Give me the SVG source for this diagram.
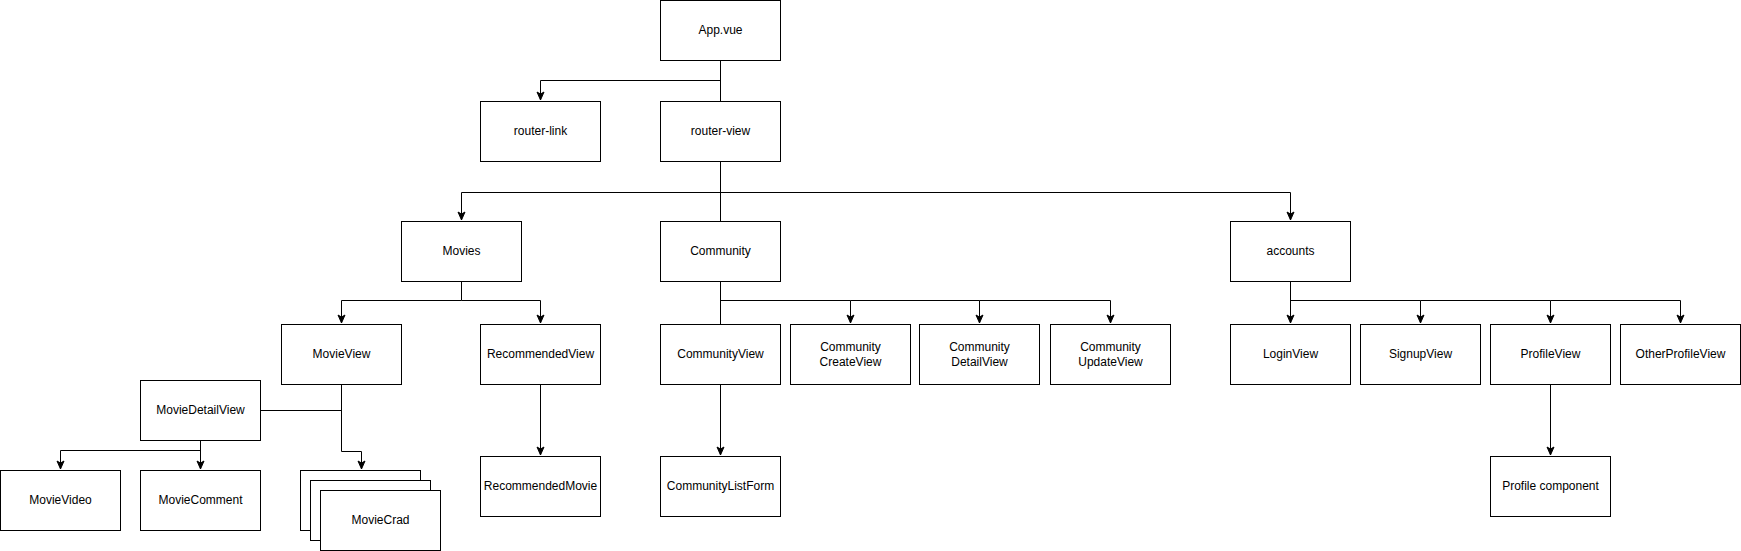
<svg xmlns="http://www.w3.org/2000/svg" width="1741" height="551" viewBox="0 0 1741 551">
<style>
.box{fill:#fff;stroke:#000;stroke-width:1}
.lbl{font-family:"Liberation Sans",Arial,sans-serif;font-size:12px;fill:#000;text-anchor:middle}
.c{fill:none;stroke:#000;stroke-width:1}
</style>
<defs>
<marker id="arr" markerUnits="userSpaceOnUse" markerWidth="10" markerHeight="10" viewBox="0 0 10 10" refX="9" refY="5" orient="auto">
<path d="M1,1.5 L9,5 L1,8.5 L3,5 Z" fill="#000" stroke="#000" stroke-width="1"/>
</marker>
</defs>
<rect width="1741" height="551" fill="#fff"/>
<g id="connectors">
<path class="c" d="M720.5,60 V80.5 H540.5 V100" marker-end="url(#arr)"/>
<path class="c" d="M720.5,60 V101"/>
<path class="c" d="M720.5,161 V192.5 H461.5 V220" marker-end="url(#arr)"/>
<path class="c" d="M720.5,161 V221"/>
<path class="c" d="M720.5,192.5 H1290.5 V220" marker-end="url(#arr)"/>
<path class="c" d="M461.5,281 V300.5 H341.5 V323" marker-end="url(#arr)"/>
<path class="c" d="M461.5,300.5 H540.5 V323" marker-end="url(#arr)"/>
<path class="c" d="M720.5,281 V324"/>
<path class="c" d="M720.5,300.5 H850.5 V323" marker-end="url(#arr)"/>
<path class="c" d="M850.5,300.5 H979.5 V323" marker-end="url(#arr)"/>
<path class="c" d="M979.5,300.5 H1110.5 V323" marker-end="url(#arr)"/>
<path class="c" d="M1290.5,281 V323" marker-end="url(#arr)"/>
<path class="c" d="M1290.5,300.5 H1420.5 V323" marker-end="url(#arr)"/>
<path class="c" d="M1420.5,300.5 H1550.5 V323" marker-end="url(#arr)"/>
<path class="c" d="M1550.5,300.5 H1680.5 V323" marker-end="url(#arr)"/>
<path class="c" d="M1550.5,384 V455" marker-end="url(#arr)"/>
<path class="c" d="M540.5,384 V455" marker-end="url(#arr)"/>
<path class="c" d="M720.5,384 V455" marker-end="url(#arr)"/>
<path class="c" d="M341.5,384 V451.5 H361.5 V469" marker-end="url(#arr)"/>
<path class="c" d="M261,410.5 H341.5"/>
<path class="c" d="M200.5,440 V450.5 H60.5 V469" marker-end="url(#arr)"/>
<path class="c" d="M200.5,440 V469" marker-end="url(#arr)"/>
</g>
<g id="app"><rect class="box" x="660.5" y="0.5" width="120" height="60"/><text class="lbl" x="720.5" y="34">App.vue</text></g>
<g id="router-link"><rect class="box" x="480.5" y="101.5" width="120" height="60"/><text class="lbl" x="540.5" y="135">router-link</text></g>
<g id="router-view"><rect class="box" x="660.5" y="101.5" width="120" height="60"/><text class="lbl" x="720.5" y="135">router-view</text></g>
<g id="movies"><rect class="box" x="401.5" y="221.5" width="120" height="60"/><text class="lbl" x="461.5" y="255">Movies</text></g>
<g id="community"><rect class="box" x="660.5" y="221.5" width="120" height="60"/><text class="lbl" x="720.5" y="255">Community</text></g>
<g id="accounts"><rect class="box" x="1230.5" y="221.5" width="120" height="60"/><text class="lbl" x="1290.5" y="255">accounts</text></g>
<g id="movieview"><rect class="box" x="281.5" y="324.5" width="120" height="60"/><text class="lbl" x="341.5" y="358">MovieView</text></g>
<g id="recommendedview"><rect class="box" x="480.5" y="324.5" width="120" height="60"/><text class="lbl" x="540.5" y="358">RecommendedView</text></g>
<g id="communityview"><rect class="box" x="660.5" y="324.5" width="120" height="60"/><text class="lbl" x="720.5" y="358">CommunityView</text></g>
<g id="communitycreateview"><rect class="box" x="790.5" y="324.5" width="120" height="60"/><text class="lbl" x="850.5" y="351">Community</text><text class="lbl" x="850.5" y="366">CreateView</text></g>
<g id="communitydetailview"><rect class="box" x="919.5" y="324.5" width="120" height="60"/><text class="lbl" x="979.5" y="351">Community</text><text class="lbl" x="979.5" y="366">DetailView</text></g>
<g id="communityupdateview"><rect class="box" x="1050.5" y="324.5" width="120" height="60"/><text class="lbl" x="1110.5" y="351">Community</text><text class="lbl" x="1110.5" y="366">UpdateView</text></g>
<g id="loginview"><rect class="box" x="1230.5" y="324.5" width="120" height="60"/><text class="lbl" x="1290.5" y="358">LoginView</text></g>
<g id="signupview"><rect class="box" x="1360.5" y="324.5" width="120" height="60"/><text class="lbl" x="1420.5" y="358">SignupView</text></g>
<g id="profileview"><rect class="box" x="1490.5" y="324.5" width="120" height="60"/><text class="lbl" x="1550.5" y="358">ProfileView</text></g>
<g id="otherprofileview"><rect class="box" x="1620.5" y="324.5" width="120" height="60"/><text class="lbl" x="1680.5" y="358">OtherProfileView</text></g>
<g id="moviedetailview"><rect class="box" x="140.5" y="380.5" width="120" height="60"/><text class="lbl" x="200.5" y="414">MovieDetailView</text></g>
<g id="movievideo"><rect class="box" x="0.5" y="470.5" width="120" height="60"/><text class="lbl" x="60.5" y="504">MovieVideo</text></g>
<g id="moviecomment"><rect class="box" x="140.5" y="470.5" width="120" height="60"/><text class="lbl" x="200.5" y="504">MovieComment</text></g>
<g id="moviecrad"><rect class="box" x="300.5" y="470.5" width="120" height="60"/><rect class="box" x="310.5" y="480.5" width="120" height="60"/><rect class="box" x="320.5" y="490.5" width="120" height="60"/><text class="lbl" x="380.5" y="524">MovieCrad</text></g>
<g id="recommendedmovie"><rect class="box" x="480.5" y="456.5" width="120" height="60"/><text class="lbl" x="540.5" y="490">RecommendedMovie</text></g>
<g id="communitylistform"><rect class="box" x="660.5" y="456.5" width="120" height="60"/><text class="lbl" x="720.5" y="490">CommunityListForm</text></g>
<g id="profilecomponent"><rect class="box" x="1490.5" y="456.5" width="120" height="60"/><text class="lbl" x="1550.5" y="490">Profile component</text></g>
</svg>
